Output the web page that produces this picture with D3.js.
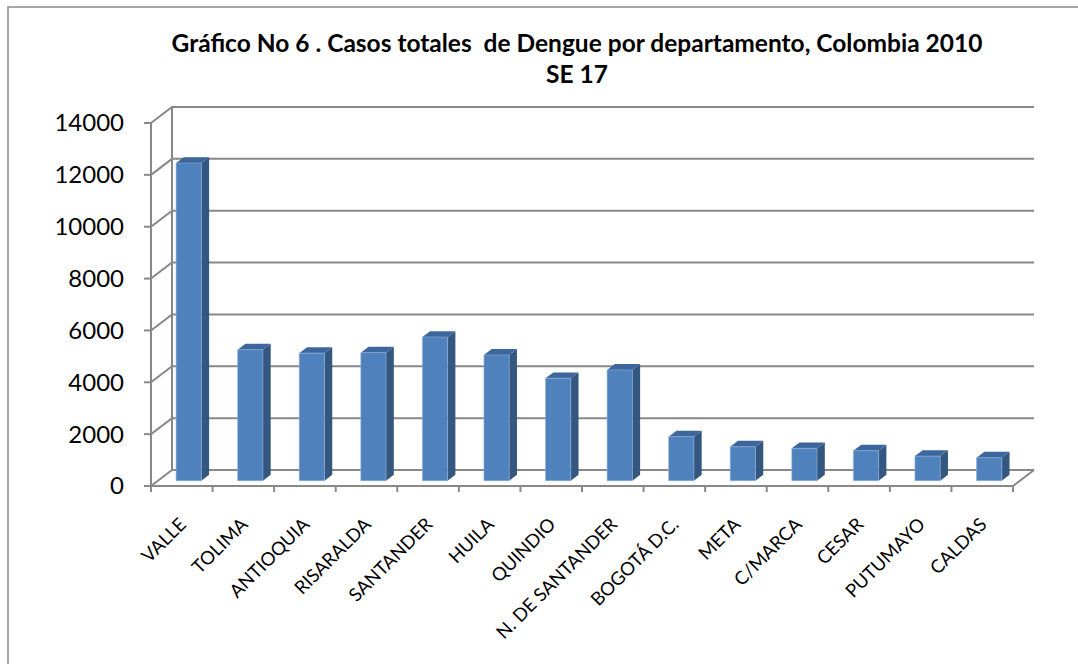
<!DOCTYPE html>
<html>
<head>
<meta charset="utf-8">
<script src="https://cdn.jsdelivr.net/npm/d3@7"></script>
<style>
  body { margin: 0; background: #fff; }
  text { font-family: Lato, "Liberation Sans", sans-serif; fill: #000; }
</style>
</head>
<body>
<svg id="chart" width="1078" height="664"></svg>
<script>
	"use strict";

	/***** Data *****/
	var departamentos = ["VALLE", "TOLIMA", "ANTIOQUIA", "RISARALDA", "SANTANDER", "HUILA",
		"QUINDIO", "N. DE SANTANDER", "BOGOTÁ D.C.", "META", "C/MARCA", "CESAR", "PUTUMAYO", "CALDAS"];
	var casos = [12250, 5050, 4920, 4940, 5540, 4850, 3950, 4270, 1700, 1310, 1250, 1160, 950, 890];
	var yTicks = [0, 2000, 4000, 6000, 8000, 10000, 12000, 14000];
	var titulo = ["Gráfico No 6 . Casos totales  de Dengue por departamento, Colombia 2010", "SE 17"];

	/***** Layout *****/
	const left = 151, right = 1013, floorY = 486, topY = 123;
	const depth = [21, -16];          // offset from front to back wall
	const f1 = 0.33, f2 = 0.70;       // bar depth inside the floor
	const gridColor = "#888888";

	var svg = d3.select("#chart");

	// outer frame
	svg.append("rect")
		.attr("x", 8).attr("y", 7).attr("width", 1090).attr("height", 680)
		.attr("fill", "none").attr("stroke", "#8a8a8a").attr("stroke-width", 1.5);

	// Scales
	var x = d3.scaleBand().domain(departamentos).range([left, right])
		.paddingInner(0.59).paddingOuter(0.295);
	var y = d3.scaleLinear().domain([0, 14000]).range([floorY, topY]);

	// project a point at depth f (0 = front, 1 = back)
	function P(px, py, f) {
		return [px + f * depth[0], py + f * depth[1]];
	}
	var line = d3.line();

	/***** Walls and gridlines *****/
	var walls = svg.append("g")
		.attr("fill", "none").attr("stroke", gridColor).attr("stroke-width", 2);

	yTicks.forEach(function (v) {
		walls.append("path")
			.attr("d", line([P(left, y(v), 0), P(left, y(v), 1), P(right, y(v), 1)]));
	});
	// back wall left edge
	walls.append("path").attr("d", line([P(left, y(0), 1), P(left, y(14000), 1)]));

	/***** Bars *****/
	var bars = svg.append("g").selectAll("g")
		.data(departamentos.map(function (d, i) { return {name: d, value: casos[i]}; }))
		.join("g");

	function face(d, kind) {
		var x0 = x(d.name), x1 = x0 + x.bandwidth();
		var yb = y(0), yt = y(d.value);
		if (kind == "front") return line([P(x0, yb, f1), P(x1, yb, f1), P(x1, yt, f1), P(x0, yt, f1)]) + "Z";
		if (kind == "side") return line([P(x1, yb, f1), P(x1, yb, f2), P(x1, yt, f2), P(x1, yt, f1)]) + "Z";
		return line([P(x0, yt, f1), P(x1, yt, f1), P(x1, yt, f2), P(x0, yt, f2)]) + "Z";
	}

	bars.append("path").attr("d", function (d) { return face(d, "side"); })
		.attr("fill", "#34577f");
	bars.append("path").attr("d", function (d) { return face(d, "top"); })
		.attr("fill", "#3d679c");
	bars.append("path").attr("d", function (d) { return face(d, "front"); })
		.attr("fill", "#4f81bd").attr("stroke", "#8fb0dc").attr("stroke-width", 0.6);

	/***** Floor front edge and axes *****/
	var axes = svg.append("g")
		.attr("fill", "none").attr("stroke", gridColor).attr("stroke-width", 2);

	axes.append("path").attr("d", line([[left, floorY], [right, floorY], P(right, floorY, 1)]));
	axes.append("path").attr("d", line([[left, floorY], [left, topY]]));

	// y ticks
	yTicks.forEach(function (v) {
		axes.append("path").attr("d", line([[left - 7, y(v)], [left, y(v)]]));
	});
	// category ticks
	d3.range(departamentos.length + 1).forEach(function (i) {
		var tx = left + i * x.step();
		axes.append("path").attr("d", line([[tx, floorY], [tx, floorY + 6]]));
	});

	/***** Labels *****/
	svg.append("g").selectAll("text")
		.data(yTicks)
		.join("text")
		.attr("x", 124)
		.attr("y", function (d) { return y(d); })
		.attr("dy", "0.35em")
		.attr("text-anchor", "end")
		.style("font-size", "24px")
		.text(function (d) { return d; });

	svg.append("g").selectAll("text")
		.data(departamentos)
		.join("text")
		.attr("text-anchor", "end")
		.attr("dy", "0.35em")
		.attr("transform", function (d) {
			var cx = x(d) + x.bandwidth() / 2 + 1;
			return "translate(" + cx + "," + 521 + ") rotate(-45)";
		})
		.style("font-size", "18.5px")
		.text(function (d) { return d; });

	// title
	svg.append("g").selectAll("text")
		.data(titulo)
		.join("text")
		.attr("x", 577)
		.attr("y", function (d, i) { return 52 + i * 31; })
		.attr("text-anchor", "middle")
		.style("font-size", "24.5px")
		.style("font-weight", "bold")
		.style("white-space", "pre")
		.text(function (d) { return d; });
</script>
</body>
</html>
